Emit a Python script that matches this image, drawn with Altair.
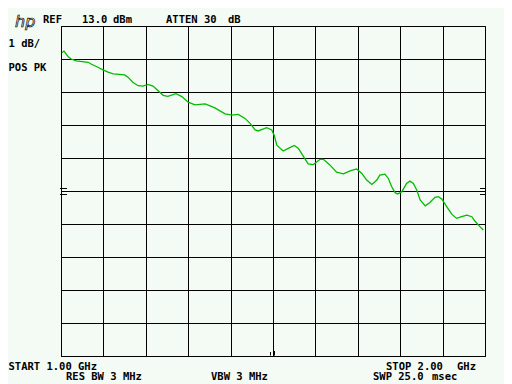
import altair as alt
import pandas as pd

# Spectrum analyser trace
freq_ghz = [1.002, 1.007, 1.017, 1.024, 1.036, 1.064, 1.072, 1.087, 1.099, 1.111,
            1.123, 1.150, 1.158, 1.170, 1.182, 1.193, 1.205, 1.217, 1.229, 1.241,
            1.252, 1.271, 1.285, 1.300, 1.316, 1.340, 1.363, 1.387, 1.403, 1.418,
            1.434, 1.446, 1.458, 1.465, 1.485, 1.497, 1.503, 1.509, 1.524, 1.536,
            1.550, 1.560, 1.572, 1.583, 1.595, 1.611, 1.619, 1.634, 1.650, 1.666,
            1.682, 1.697, 1.709, 1.721, 1.733, 1.745, 1.752, 1.764, 1.772, 1.780,
            1.788, 1.794, 1.804, 1.815, 1.823, 1.831, 1.839, 1.847, 1.859, 1.870,
            1.882, 1.890, 1.898, 1.910, 1.922, 1.933, 1.945, 1.957, 1.969, 1.976,
            1.988, 1.996]
level_dbm = [12.19, 12.24, 12.07, 12.00, 11.94, 11.90, 11.84, 11.75, 11.67, 11.60,
             11.55, 11.52, 11.45, 11.29, 11.19, 11.18, 11.23, 11.18, 11.04, 10.90,
             10.87, 10.95, 10.86, 10.69, 10.61, 10.64, 10.52, 10.34, 10.30, 10.32,
             10.20, 10.05, 9.85, 9.82, 9.92, 9.85, 9.68, 9.39, 9.21, 9.29,
             9.38, 9.29, 9.04, 8.82, 8.80, 8.96, 8.96, 8.79, 8.57, 8.52,
             8.61, 8.67, 8.54, 8.33, 8.20, 8.33, 8.48, 8.51, 8.38, 8.13,
             7.95, 7.91, 7.98, 8.23, 8.30, 8.23, 8.03, 7.73, 7.55, 7.65,
             7.81, 7.83, 7.76, 7.52, 7.29, 7.17, 7.22, 7.27, 7.22, 7.09,
             6.92, 6.82]

x_grid = [1.0, 1.1, 1.2, 1.3, 1.4, 1.5, 1.6, 1.7, 1.8, 1.9, 2.0]
y_grid = [3, 4, 5, 6, 7, 8, 9, 10, 11, 12, 13]

W, H = 424, 330
BG = "#f4faf4"
FONT = "DejaVu Sans Mono"

df = pd.DataFrame({"f": freq_ghz, "L": level_dbm})

xs = alt.X("f:Q", scale=alt.Scale(domain=[1, 2], nice=False, zero=False),
           axis=alt.Axis(values=x_grid, grid=True, gridColor="black", gridOpacity=1,
                         gridWidth=1, labels=False, ticks=False, domain=False, title=None))
ys = alt.Y("L:Q", scale=alt.Scale(domain=[3, 13], nice=False, zero=False),
           axis=alt.Axis(values=y_grid, grid=True, gridColor="black", gridOpacity=1,
                         gridWidth=1, labels=False, ticks=False, domain=False, title=None))

trace = alt.Chart(df).mark_line(color="#00bb00", strokeWidth=1.3, clip=True).encode(x=xs, y=ys)

one = alt.Data(values=[{"k": 1}])


def label(t, px, py, size=10.5):
    return alt.Chart(one).mark_text(
        text=t, align="left", baseline="alphabetic", font=FONT, fontSize=size,
        fontWeight="bold", color="black"
    ).encode(x=alt.value(px - 61), y=alt.value(py - 26))


def seg(x1, x2, y1, y2):
    return alt.Chart(one).mark_rule(color="black", strokeWidth=1).encode(
        x=alt.value(x1 - 61), x2=alt.value(x2 - 61),
        y=alt.value(y1 - 26), y2=alt.value(y2 - 26))


texts = [
    label("REF", 43, 22.5),
    label("13.0", 82, 22.5),
    label("dBm", 113, 22.5),
    label("ATTEN 30", 166, 22.5),
    label("dB", 228, 22.5),
    label("1 dB/", 8.5, 46.5),
    label("POS PK", 8.5, 70.5),
    label("START 1.00", 8.5, 369.5),
    label("GHz", 78, 369.5),
    label("RES BW 3 MHz", 66, 379.5),
    label("VBW 3 MHz", 211, 379.5),
    label("STOP 2.00", 386, 369.5),
    label("GHz", 457, 369.5),
    label("SWP 25.0", 373, 379.5),
    label("msec", 432, 379.5),
]

logo = alt.Chart(one).mark_text(
    text="hp", align="left", baseline="alphabetic", font="DejaVu Sans", fontSize=16,
    fontStyle="italic", fillOpacity=0, stroke="black", strokeWidth=0.7
).encode(x=alt.value(15 - 61), y=alt.value(27 - 26))

marks = [
    seg(60, 67, 188.5, 188.5), seg(60, 67, 194.5, 194.5),
    seg(480, 486, 188.5, 188.5), seg(480, 486, 194.5, 194.5),
    seg(270.5, 270.5, 352, 355.5), seg(274.5, 274.5, 351, 355.5),
]

chart = alt.layer(trace, logo, *texts, *marks).properties(
    width=W, height=H,
    autosize=alt.AutoSizeParams(type="none"),
    padding={"left": 53, "top": 18, "right": 19, "bottom": 28},
).configure(background=BG).configure_view(stroke="black", strokeWidth=1, fill=BG)

chart.save("out.html", embed_options={"renderer": "svg", "actions": False})
